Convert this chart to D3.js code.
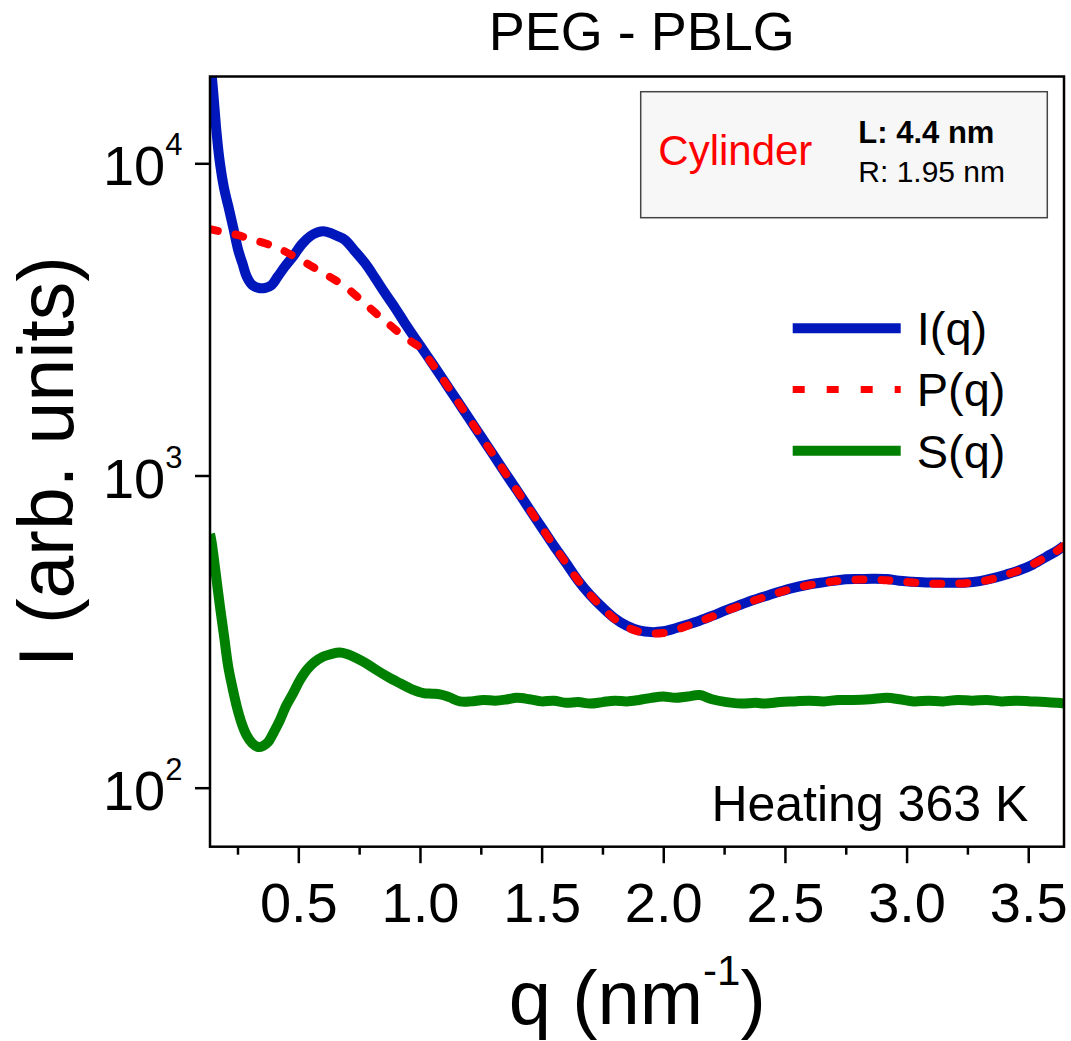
<!DOCTYPE html>
<html>
<head>
<meta charset="utf-8">
<script src="https://cdn.jsdelivr.net/npm/d3@7"></script>
<style>
  body { margin: 0; background: #fff; }
  text { font-family: "Liberation Sans", Arial, sans-serif; }
</style>
</head>
<body>
<div id="my_dataviz"></div>
<script>
// ---- data ----
var qI = [0.137, 0.150, 0.165, 0.178, 0.195, 0.212, 0.232, 0.253, 0.270, 0.288, 0.310, 0.342, 0.365, 0.390, 0.415, 0.445, 0.480, 0.514, 0.550, 0.580, 0.603, 0.630, 0.660, 0.692, 0.730, 0.774, 0.815, 0.856, 0.900, 0.938, 1.000, 1.050, 1.100, 1.150, 1.200, 1.250, 1.300, 1.350, 1.400, 1.450, 1.500, 1.550, 1.600, 1.650, 1.700, 1.750, 1.800, 1.850, 1.900, 1.950, 2.000, 2.050, 2.100, 2.137, 2.200, 2.261, 2.320, 2.370, 2.430, 2.480, 2.530, 2.589, 2.650, 2.699, 2.750, 2.808, 2.860, 2.918, 2.970, 3.028, 3.080, 3.137, 3.190, 3.247, 3.300, 3.356, 3.410, 3.466, 3.520, 3.576, 3.620, 3.647];
var valI = [22000, 17000, 12300, 10000, 8300, 7300, 6250, 5270, 4790, 4335, 4080, 3980, 3990, 4075, 4330, 4670, 5050, 5500, 5850, 6010, 6060, 5990, 5850, 5680, 5260, 4790, 4300, 3840, 3420, 3076, 2610, 2290, 2005, 1750, 1531, 1337, 1169, 1021, 893, 780, 682, 596, 525, 461, 414, 378, 349, 330, 319, 315, 317, 324, 333, 340, 355, 371, 386, 399, 413, 425, 436, 446, 454, 460, 465, 466, 467, 466, 460, 457, 454, 454, 453, 454, 459, 469, 482, 498, 519, 550, 575, 596];

var qP = [0.137, 0.200, 0.253, 0.300, 0.363, 0.420, 0.473, 0.530, 0.582, 0.640, 0.692, 0.740, 0.788, 0.836, 0.884, 0.930, 0.979, 1.000, 1.050, 1.100, 1.150, 1.200, 1.250, 1.300, 1.350, 1.400, 1.450, 1.500, 1.550, 1.600, 1.650, 1.700, 1.750, 1.800, 1.850, 1.900, 1.950, 2.000, 2.050, 2.100, 2.137, 2.200, 2.261, 2.320, 2.370, 2.430, 2.480, 2.530, 2.589, 2.650, 2.699, 2.750, 2.808, 2.860, 2.918, 2.970, 3.028, 3.080, 3.137, 3.190, 3.247, 3.300, 3.356, 3.410, 3.466, 3.520, 3.576, 3.620, 3.647];
var valP = [6150, 6000, 5885, 5720, 5546, 5330, 5085, 4800, 4550, 4280, 4030, 3750, 3475, 3220, 3000, 2800, 2640, 2570, 2280, 2005, 1750, 1531, 1337, 1169, 1021, 893, 780, 682, 596, 525, 461, 414, 377, 347, 327, 316, 312, 313, 320, 330, 338, 353, 369, 384, 397, 411, 423, 434, 444, 452, 458, 462, 464, 464, 462, 458, 454, 451, 450, 450, 452, 457, 467, 481, 498, 520, 550, 575, 596];

var qS = [0.137, 0.144, 0.160, 0.178, 0.195, 0.212, 0.230, 0.247, 0.268, 0.288, 0.310, 0.335, 0.355, 0.376, 0.400, 0.425, 0.450, 0.479, 0.505, 0.534, 0.565, 0.603, 0.635, 0.671, 0.700, 0.740, 0.780, 0.822, 0.870, 0.918, 0.965, 1.014, 1.050, 1.082, 1.120, 1.164, 1.210, 1.260, 1.310, 1.360, 1.397, 1.450, 1.500, 1.550, 1.600, 1.650, 1.700, 1.750, 1.800, 1.850, 1.900, 1.950, 2.000, 2.050, 2.100, 2.150, 2.200, 2.260, 2.320, 2.380, 2.420, 2.480, 2.540, 2.600, 2.660, 2.720, 2.780, 2.850, 2.920, 2.970, 3.030, 3.090, 3.150, 3.210, 3.270, 3.330, 3.390, 3.450, 3.510, 3.570, 3.620, 3.647];
var valS = [650, 610, 490, 380, 305, 244, 208, 182, 160, 147, 139, 135, 136, 140, 151, 165, 183, 201, 220, 238, 252, 263, 268, 271, 268, 260, 250, 238, 226, 216, 207, 201, 200, 199, 195, 189, 189, 191, 190, 192, 194, 192, 189, 190, 187, 188, 186, 188, 190, 189, 191, 194, 196, 194, 196, 198, 192, 188, 186, 187, 186, 188, 189, 190, 189, 191, 191, 192, 194, 192, 189, 190, 189, 191, 190, 191, 189, 190, 189, 188, 187, 186];

var seriesNames = ["I(q)", "P(q)", "S(q)"];
var xTicks = [0.5, 1.0, 1.5, 2.0, 2.5, 3.0, 3.5];
var xTickLabels = ["0.5", "1.0", "1.5", "2.0", "2.5", "3.0", "3.5"];
var xMinorTicks = [0.25, 0.75, 1.25, 1.75, 2.25, 2.75, 3.25];
var yTicks = [100, 1000, 10000];
var yTickExp = ["2", "3", "4"];

// set the dimensions and margins of the graph
var margin = { top: 76.5, right: 7, bottom: 194.3, left: 210 },
    width = 1071 - margin.left - margin.right,
    height = 1041 - margin.top - margin.bottom;

var root = d3.select("#my_dataviz")
    .append("svg")
    .attr("width", 1071)
    .attr("height", 1041);

var svg = root.append("g")
    .attr("transform", "translate(" + margin.left + "," + margin.top + ")");

var x = d3.scaleLinear().domain([0.137, 3.647]).range([0, width]);
var y = d3.scaleLog().domain([Math.pow(10, 1.811), Math.pow(10, 4.278)]).range([height, 0]);

svg.append("clipPath").attr("id", "clip")
    .append("rect").attr("width", width).attr("height", height);

// x axis, major + minor ticks
var xAxis = svg.append("g")
    .attr("transform", "translate(0," + height + ")")
    .call(d3.axisBottom(x).tickValues(xTicks).tickSize(16.5).tickSizeOuter(0)
        .tickFormat(function (d, i) { return xTickLabels[i]; }));
xAxis.select(".domain").remove();
xAxis.selectAll(".tick line").attr("stroke", "#000").attr("stroke-width", 2.5);
xAxis.selectAll(".tick text")
    .attr("y", 75).attr("dy", 0)
    .attr("font-size", 56).attr("fill", "#000")
    .style("font-family", "'Liberation Sans', Arial, sans-serif");

var xMinor = svg.append("g")
    .attr("transform", "translate(0," + height + ")")
    .call(d3.axisBottom(x).tickValues(xMinorTicks).tickSize(8).tickSizeOuter(0).tickFormat(""));
xMinor.select(".domain").remove();
xMinor.selectAll(".tick line").attr("stroke", "#000").attr("stroke-width", 2.5);

// y axis (log)
var yAxis = svg.append("g")
    .call(d3.axisLeft(y).tickValues(yTicks).tickSize(15).tickSizeOuter(0));
yAxis.select(".domain").remove();
yAxis.selectAll(".tick line").attr("stroke", "#000").attr("stroke-width", 2.5);
yAxis.selectAll(".tick text").each(function (d, i) {
    var t = d3.select(this);
    t.text(null)
        .attr("x", -27.5).attr("y", 21.7).attr("dy", 0)
        .attr("text-anchor", "end")
        .attr("font-size", 56).attr("fill", "#000")
        .style("font-family", "'Liberation Sans', Arial, sans-serif");
    t.append("tspan").text("10");
    t.append("tspan").attr("dy", -30).attr("font-size", 31).text(yTickExp[i]);
});

// curves
var line = d3.line()
    .x(function (d) { return x(d.q); })
    .y(function (d) { return y(d.v); })
    .curve(d3.curveCatmullRom.alpha(0.5));

function pairs(qs, vs) {
    return qs.map(function (q, i) { return { q: q, v: vs[i] }; });
}

var curves = svg.append("g").attr("clip-path", "url(#clip)");

curves.append("path")
    .datum(pairs(qI, valI))
    .attr("d", line)
    .attr("fill", "none")
    .attr("stroke", "#0018bb")
    .attr("stroke-width", 10)
    .attr("stroke-linejoin", "round");

curves.append("path")
    .datum(pairs(qS, valS))
    .attr("d", line)
    .attr("fill", "none")
    .attr("stroke", "#008000")
    .attr("stroke-width", 10)
    .attr("stroke-linejoin", "round");

curves.append("path")
    .datum(pairs(qP, valP))
    .attr("d", line)
    .attr("fill", "none")
    .attr("stroke", "#ff0000")
    .attr("stroke-width", 8)
    .attr("stroke-linecap", "round")
    .attr("stroke-dasharray", "8,18");

// frame
svg.append("rect")
    .attr("width", width).attr("height", height)
    .attr("fill", "none").attr("stroke", "#000").attr("stroke-width", 2.5);

// legend
var legColors = ["#0018bb", "#ff0000", "#008000"];
var legend = root.append("g").attr("transform", "translate(792.7,328.3)");
legend.selectAll("line")
    .data(seriesNames)
    .enter()
    .append("line")
    .attr("x1", 0).attr("x2", 108)
    .attr("y1", function (d, i) { return i * 61.2; })
    .attr("y2", function (d, i) { return i * 61.2; })
    .attr("stroke", function (d, i) { return legColors[i]; })
    .attr("stroke-width", function (d, i) { return i === 1 ? 7 : 10; })
    .attr("stroke-dasharray", function (d, i) { return i === 1 ? "12,22" : null; });
legend.selectAll("text")
    .data(seriesNames)
    .enter()
    .append("text")
    .attr("x", 124)
    .attr("y", function (d, i) { return i * 61.2 + 17; })
    .attr("font-size", 47)
    .text(function (d) { return d; });

// model box
root.append("rect")
    .attr("x", 640.7).attr("y", 91.7)
    .attr("width", 406.6).attr("height", 126)
    .attr("fill", "#f7f7f7").attr("stroke", "#444").attr("stroke-width", 1.5);
root.append("text").attr("x", 658.3).attr("y", 165)
    .attr("font-size", 42).attr("fill", "#ff0000").text("Cylinder");
root.append("text").attr("x", 858.3).attr("y", 142.7)
    .attr("font-size", 31).attr("font-weight", "bold").text("L: 4.4 nm");
root.append("text").attr("x", 858.3).attr("y", 181.7)
    .attr("font-size", 30).text("R: 1.95 nm");

// annotation
root.append("text").attr("x", 1028.3).attr("y", 820.7)
    .attr("text-anchor", "end").attr("font-size", 50).text("Heating 363 K");

// title
root.append("text").attr("x", 641.7).attr("y", 50)
    .attr("text-anchor", "middle").attr("font-size", 54).text("PEG - PBLG");

// axis titles
var xt = root.append("text").attr("x", 508.8).attr("y", 1024).attr("font-size", 76);
xt.append("tspan").text("q (nm");
xt.append("tspan").attr("dy", -39).attr("font-size", 42).text("-1");
xt.append("tspan").attr("dy", 39).text(")");

root.append("text")
    .attr("transform", "translate(73,461.5) rotate(-90)")
    .attr("text-anchor", "middle")
    .attr("font-size", 77)
    .text("I (arb. units)");
</script>
</body>
</html>
